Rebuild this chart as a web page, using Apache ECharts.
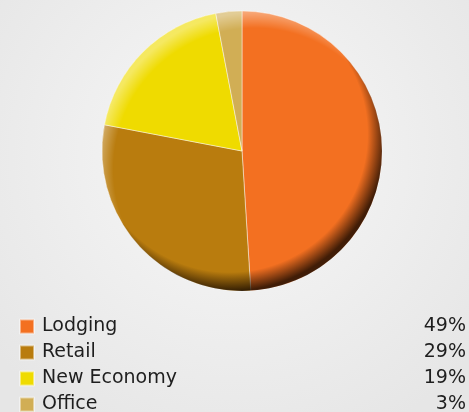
<!DOCTYPE html>
<html>
<head>
<meta charset="utf-8">
<script src="https://cdn.jsdelivr.net/npm/echarts@6/dist/echarts.min.js"></script>
<style>
  html, body { margin: 0; padding: 0; }
  #chart { width: 469px; height: 412px; }
</style>
</head>
<body>
<div id="chart"></div>
<script>
// Portfolio mix by property type
const categories = ['Lodging', 'Retail', 'New Economy', 'Office'];
const shares = [49, 29, 19, 3];
const colors = ['#F37021', '#B97C0E', '#EFDB00', '#D1AE55'];

const center = ['242', '151'];
const radius = 140;

const chart = echarts.init(document.getElementById('chart'));

const pieData = categories.map((name, i) => ({
  name: name,
  value: shares[i],
  itemStyle: { color: colors[i] }
}));

// rim shading laid over the pie: dark toward the lower right, light toward the upper left
function rimOverlay(name, cx, cy, inner, outer, startAt) {
  return {
    type: 'pie',
    name: name,
    center: center,
    radius: radius,
    silent: true,
    label: { show: false },
    labelLine: { show: false },
    z: 3,
    data: [{
      name: name,
      value: 1,
      itemStyle: {
        borderWidth: 0,
        color: {
          type: 'radial', x: cx, y: cy, r: 0.56,
          colorStops: [
            { offset: 0, color: inner },
            { offset: startAt, color: inner },
            { offset: 1, color: outer }
          ]
        }
      }
    }]
  };
}

chart.setOption({
  backgroundColor: {
    type: 'radial', x: 0.5, y: 0.38, r: 0.75,
    colorStops: [
      { offset: 0, color: '#f8f8f8' },
      { offset: 1, color: '#e6e6e6' }
    ]
  },
  legend: {
    data: categories,
    orient: 'vertical',
    left: 14,
    top: 312,
    height: 200,
    itemWidth: 14,
    itemHeight: 14,
    itemGap: 7,
    icon: 'rect',
    selectedMode: false,
    formatter: function (name) {
      const i = categories.indexOf(name);
      return '{n|' + name + '}{v|' + shares[i] + '%}';
    },
    textStyle: {
      rich: {
        n: { width: 380, padding: [0, 0, 0, 3], fontSize: 19, color: '#1e1e1e', fontFamily: 'DejaVu Sans' },
        v: { width: 44, align: 'right', fontSize: 19, color: '#1e1e1e', fontFamily: 'DejaVu Sans' }
      }
    }
  },
  series: [
    {
      type: 'pie',
      name: 'Mix',
      center: center,
      radius: radius,
      startAngle: 90,
      clockwise: true,
      label: { show: false },
      labelLine: { show: false },
      itemStyle: { borderColor: 'rgba(255,255,255,0.45)', borderWidth: 1 },
      emphasis: { disabled: true },
      data: pieData
    },
    rimOverlay('shade', 0.455, 0.44, 'rgba(20,8,0,0)', 'rgba(20,8,0,0.8)', 0.88),
    rimOverlay('gloss', 0.545, 0.565, 'rgba(255,255,255,0)', 'rgba(255,255,255,0.38)', 0.9)
  ]
});
</script>
</body>
</html>
